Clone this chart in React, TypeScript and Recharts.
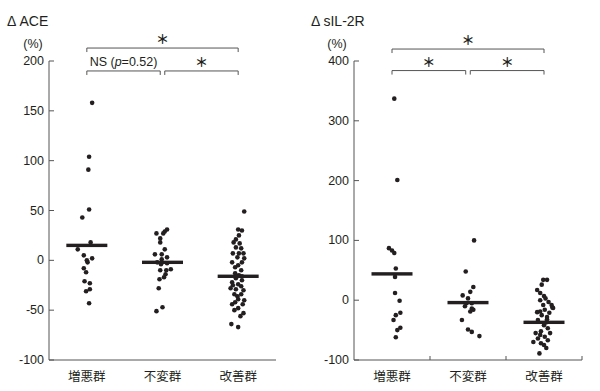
import type { ReactNode } from 'react'
import { ScatterChart, Scatter, XAxis, YAxis, ReferenceLine } from 'recharts'

const GROUPS = ['増悪群', '不変群', '改善群']

// ΔACE (%), one array per group, plus horizontal jitter (fraction of a group's width)
const ACE_WORSE = [158, 104, 91, 51, 43, 18, 11, 5, 2, 0, -2, -8, -12, -21, -23, -29, -31, -43]
const ACE_WORSE_JIT = [0.07, 0.03, 0.02, 0.03, -0.06, 0.05, -0.12, -0.04, 0.07, 0, 0.01, -0.04, -0.01, -0.03, 0.04, 0.04, -0.01, 0.03]
const ACE_SAME = [27, 29, 31, 27, 22, 18, 11, 6, 6, 3, 1, -2, -4, -3, -9, -10, -10, -14, -17, -19, -28, -47, -51]
const ACE_SAME_JIT = [-0.08, 0.03, 0.06, 0.01, -0.03, -0.03, 0.03, -0.1, -0.01, 0.06, -0.01, -0.07, -0.02, 0.06, 0.11, 0.05, -0.03, 0.04, 0.02, -0.04, -0.05, 0, -0.08]
const ACE_BETTER = [
  49, 31, 30, 25, 21, 18, 17, 13, 12, 7, 7, 7, 3, 2, -2, -2, -5, -7, -10, -13, -15, -16, -18, -20,
  -22, -24, -25, -26, -28, -29, -30, -34, -34, -36, -39, -40, -42, -44, -44, -48, -50, -53, -56, -64, -67,
]
const ACE_BETTER_JIT = [
  0.08, 0, 0.05, 0.01, -0.03, -0.06, 0.02, -0.03, 0.04, 0.07, 0.01, -0.07, -0.01, 0.08, -0.08, 0.05, 0, -0.04, 0.04, -0.04,
  0.01, 0.05, -0.03, 0.05, -0.08, 0, -0.07, 0.04, -0.1, -0.03, 0.07, 0.04, -0.05, -0.01, 0, 0.08, -0.04, 0.06, -0.08, 0,
  -0.05, 0.07, 0.03, -0.09, 0,
]
const ACE_MEDIANS = [15, -2, -16]
const ACE_TICKS = [-100, -50, 0, 50, 100, 150, 200]

// ΔsIL-2R (%)
const SIL_WORSE = [337, 201, 87, 83, 79, 53, 39, 12, -1, -21, -25, -33, -46, -50, -62]
const SIL_WORSE_JIT = [0.03, 0.07, -0.04, 0, 0.03, 0.05, 0.04, 0.04, 0.1, 0.11, 0.05, 0.02, 0.11, 0.07, 0.05]
const SIL_SAME = [100, 48, 22, 14, 8, 3, -5, -5, -10, -14, -16, -19, -33, -49, -53, -60]
const SIL_SAME_JIT = [0.08, -0.03, 0.07, 0.03, -0.07, 0, -0.02, 0.05, -0.04, 0.05, 0.07, 0.03, -0.08, 0, 0.05, 0.15]
const SIL_BETTER = [
  34, 34, 26, 17, 12, 7, 3, 0, -3, -8, -8, -12, -13, -16, -19, -20, -21, -25, -28, -32, -33, -37, -42, -47,
  -52, -55, -55, -58, -61, -64, -67, -70, -72, -75, -80, -89,
]
const SIL_BETTER_JIT = [
  -0.01, 0.04, -0.03, -0.09, -0.05, 0, 0.02, -0.05, 0.06, 0.1, -0.01, 0.11, 0.12, 0.01, -0.05, -0.09, 0.07, -0.03, 0.04, 0.04,
  -0.08, 0.03, 0, 0.05, -0.04, 0.08, -0.11, -0.05, 0.01, -0.08, 0.05, -0.14, -0.04, 0, 0.03, -0.06,
]
const SIL_MEDIANS = [44, -4, -37]
const SIL_TICKS = [-100, 0, 100, 200, 300, 400]

const INK = '#231f20'
const AXIS = '#555'
const TEXT_FONT = '"Liberation Sans", Arial, sans-serif'
const NUM_FONT = '"Liberation Sans Narrow", "Liberation Sans", Arial, sans-serif'
const CJK_FONT = '"Noto Sans CJK JP", sans-serif'

type Pt = { x: number; y: number }

function toPoints(group: number, values: number[], jitter: number[]): Pt[] {
  return values.map((v, i) => ({ x: group + 0.5 + (jitter[i] ?? 0), y: v }))
}

const Dot = (p: any) => <circle cx={p.cx} cy={p.cy} r={2.3} fill={INK} />
const MedianBar = (p: any) => <rect x={p.cx - 20.5} y={p.cy - 1.7} width={41} height={3.4} fill={INK} />

const YTick = (p: any) => (
  <g>
    <line x1={p.x} x2={p.x + 5} y1={p.y} y2={p.y} stroke={AXIS} />
    <text x={p.x - 5} y={p.y} textAnchor='end' dominantBaseline='central' fontSize={12.5} fontFamily={NUM_FONT} fill={INK}>
      {p.payload.value}
    </text>
  </g>
)

const XTick = (p: any) => {
  const v = p.payload.value as number
  if (Number.isInteger(v)) return <line x1={p.x} x2={p.x} y1={p.y} y2={p.y - 4} stroke={AXIS} />
  return (
    <text x={p.x} y={p.y + 21} textAnchor='middle' fontSize={12.5} fontFamily={CJK_FONT} fill={INK}>
      {GROUPS[Math.floor(v)]}
    </text>
  )
}

const bracketShape = (label: ReactNode, star: boolean) => (p: any) => {
  const { x1, x2, y1 } = p
  return (
    <g>
      <path d={`M${x1},${y1 + 4}V${y1}H${x2}V${y1 + 4}`} fill='none' stroke={AXIS} strokeWidth={1} />
      <text
        x={(x1 + x2) / 2}
        y={y1 - (star ? 9.5 : 8.5)}
        textAnchor='middle'
        dominantBaseline='central'
        fontSize={star ? 13 : 12.5}
        fontWeight={star ? 700 : 400}
        fontFamily={star ? CJK_FONT : TEXT_FONT}
        fill={INK}
      >
        {label}
      </text>
    </g>
  )
}

type Bracket = { from: number; to: number; level: 'top' | 'low'; label: ReactNode; star: boolean }

function Panel({
  groups,
  medians,
  ticks,
  domain,
  yWidth,
  rightMargin,
  brackets,
  levels,
  edgeTicks,
}: {
  groups: Pt[][]
  medians: number[]
  ticks: number[]
  domain: [number, number]
  yWidth: number
  rightMargin: number
  brackets: Bracket[]
  levels: { top: number; low: number }
  edgeTicks: boolean
}) {
  const medianPts = medians.map((m, i) => ({ x: i + 0.5, y: m }))
  return (
    <ScatterChart width={300} height={391} margin={{ top: 61, right: rightMargin, bottom: 0, left: 0 }}>
      <XAxis
        type='number'
        dataKey='x'
        domain={[0, 3]}
        ticks={edgeTicks ? [0.5, 1, 1.5, 2, 2.5, 3] : [0.5, 1.5, 2.5]}
        interval={0}
        tick={XTick}
        tickLine={false}
        tickSize={0}
        tickMargin={0}
        height={31}
        axisLine={{ stroke: AXIS }}
      />
      <YAxis
        type='number'
        dataKey='y'
        domain={domain}
        ticks={ticks}
        interval={0}
        tick={YTick}
        tickLine={false}
        tickSize={0}
        tickMargin={0}
        width={yWidth}
        axisLine={{ stroke: AXIS }}
      />
      {groups.map((g, i) => (
        <Scatter key={i} data={g} shape={Dot} isAnimationActive={false} />
      ))}
      <Scatter data={medianPts} shape={MedianBar} isAnimationActive={false} />
      {brackets.map((b, i) => (
        <ReferenceLine
          key={i}
          segment={[
            { x: b.from, y: levels[b.level] },
            { x: b.to, y: levels[b.level] },
          ]}
          ifOverflow='visible'
          shape={bracketShape(b.label, b.star)}
        />
      ))}
    </ScatterChart>
  )
}

const STAR = '＊'

export default function App() {
  const aceGroups = [
    toPoints(0, ACE_WORSE, ACE_WORSE_JIT),
    toPoints(1, ACE_SAME, ACE_SAME_JIT),
    toPoints(2, ACE_BETTER, ACE_BETTER_JIT),
  ]
  const silGroups = [
    toPoints(0, SIL_WORSE, SIL_WORSE_JIT),
    toPoints(1, SIL_SAME, SIL_SAME_JIT),
    toPoints(2, SIL_BETTER, SIL_BETTER_JIT),
  ]
  const ns = (
    <>
      NS (<tspan fontStyle='italic'>p</tspan>=0.52)
    </>
  )
  const aceBrackets: Bracket[] = [
    { from: 0.5, to: 2.5, level: 'top', label: STAR, star: true },
    { from: 0.5, to: 1.47, level: 'low', label: ns, star: false },
    { from: 1.53, to: 2.5, level: 'low', label: STAR, star: true },
  ]
  const silBrackets: Bracket[] = [
    { from: 0.5, to: 2.5, level: 'top', label: STAR, star: true },
    { from: 0.5, to: 1.47, level: 'low', label: STAR, star: true },
    { from: 1.53, to: 2.5, level: 'low', label: STAR, star: true },
  ]
  return (
    <div style={{ position: 'absolute', left: 0, top: 0, width: 600, height: 391, background: '#fff' }}>
      <div style={{ position: 'absolute', left: 0, top: 0 }}>
        <Panel
          groups={aceGroups}
          medians={ACE_MEDIANS}
          ticks={ACE_TICKS}
          domain={[-100, 200]}
          yWidth={49}
          rightMargin={24}
          brackets={aceBrackets}
          levels={{ top: 213, low: 190 }}
          edgeTicks={false}
        />
      </div>
      <div style={{ position: 'absolute', left: 300, top: 0 }}>
        <Panel
          groups={silGroups}
          medians={SIL_MEDIANS}
          ticks={SIL_TICKS}
          domain={[-100, 400]}
          yWidth={54}
          rightMargin={18}
          brackets={silBrackets}
          levels={{ top: 420, low: 384 }}
          edgeTicks
        />
      </div>
      <svg width={600} height={60} style={{ position: 'absolute', left: 0, top: 0, pointerEvents: 'none' }}>
        <text x={7} y={26} fontSize={14} fontFamily={TEXT_FONT} fill={INK}>
          Δ ACE
        </text>
        <text x={33} y={47.5} textAnchor='middle' fontSize={12.5} fontFamily={TEXT_FONT} fill={INK}>
          (%)
        </text>
        <text x={311} y={26} fontSize={14} fontFamily={TEXT_FONT} fill={INK}>
          Δ sIL-2R
        </text>
        <text x={337} y={47.5} textAnchor='middle' fontSize={12.5} fontFamily={TEXT_FONT} fill={INK}>
          (%)
        </text>
      </svg>
    </div>
  )
}
